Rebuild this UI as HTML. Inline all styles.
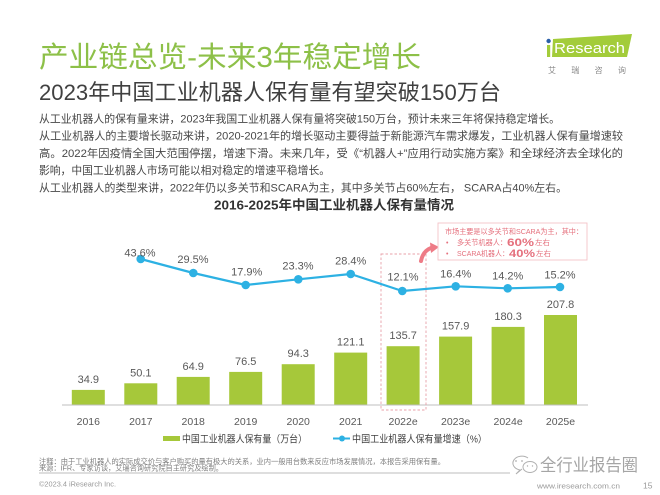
<!DOCTYPE html>
<html><head><meta charset="utf-8">
<style>
html,body{margin:0;padding:0;background:#fff;}
svg{display:block;}
text{font-family:"Liberation Sans","Noto Sans CJK SC",sans-serif;}
</style></head>
<body>
<svg width="660" height="495" viewBox="0 0 660 495" xmlns="http://www.w3.org/2000/svg">
<rect width="660" height="495" fill="#fff"/>

<!-- Titles -->
<text x="39" y="67" font-size="29" fill="#8dc048" textLength="382" lengthAdjust="spacingAndGlyphs">产业链总览-未来3年稳定增长</text>
<text x="39" y="100" font-size="22" fill="#404040" textLength="462" lengthAdjust="spacingAndGlyphs">2023年中国工业机器人保有量有望突破150万台</text>

<!-- Logo -->
<polygon points="553,39 632,34 627,57 552,57" fill="#a3cc3a"/>
<rect x="547" y="45" width="3.2" height="12" fill="#a3cc3a"/>
<circle cx="548.6" cy="41" r="2.2" fill="#2a5fa8"/>
<text x="554" y="53" font-size="15" fill="#fff" textLength="71" lengthAdjust="spacingAndGlyphs">Research</text>
<text x="548" y="73" font-size="8" fill="#8a8a8a" textLength="78" lengthAdjust="spacing">艾 瑞 咨 询</text>

<!-- Paragraph -->
<g font-size="11" fill="#474747">
<text x="39" y="122.5" textLength="521" lengthAdjust="spacingAndGlyphs">从工业机器人的保有量来讲，2023年我国工业机器人保有量将突破150万台，预计未来三年将保持稳定增长。</text>
<text x="39" y="139.7" textLength="584" lengthAdjust="spacingAndGlyphs">从工业机器人的主要增长驱动来讲，2020-2021年的增长驱动主要得益于新能源汽车需求爆发，工业机器人保有量增速较</text>
<text x="39" y="156.9" textLength="584" lengthAdjust="spacingAndGlyphs">高。2022年因疫情全国大范围停摆，增速下滑。未来几年，受《“机器人+”应用行动实施方案》和全球经济去全球化的</text>
<text x="39" y="174.1" textLength="291" lengthAdjust="spacingAndGlyphs">影响，中国工业机器人市场可能以相对稳定的增速平稳增长。</text>
<text x="39" y="191.3" textLength="528" lengthAdjust="spacingAndGlyphs">从工业机器人的类型来讲，2022年仍以多关节和SCARA为主，其中多关节占60%左右， SCARA占40%左右。</text>
</g>

<!-- Chart title -->
<text x="334" y="209.5" font-size="13.3" font-weight="bold" fill="#333" text-anchor="middle" textLength="240" lengthAdjust="spacingAndGlyphs">2016-2025年中国工业机器人保有量情况</text>

<!-- Bars -->
<g fill="#a6c83a">
<rect x="71.8" y="389.9" width="33" height="15.1"/>
<rect x="124.3" y="383.3" width="33" height="21.7"/>
<rect x="176.7" y="376.9" width="33" height="28.1"/>
<rect x="229.2" y="371.9" width="33" height="33.1"/>
<rect x="281.7" y="364.2" width="33" height="40.8"/>
<rect x="334.2" y="352.6" width="33" height="52.4"/>
<rect x="386.6" y="346.2" width="33" height="58.8"/>
<rect x="439.1" y="336.6" width="33" height="68.4"/>
<rect x="491.6" y="326.9" width="33" height="78.1"/>
<rect x="544.0" y="315.0" width="33" height="90.0"/>
</g>

<!-- Axis -->
<line x1="62" y1="405" x2="588" y2="405" stroke="#bfbfbf" stroke-width="1"/>

<!-- Bar labels -->
<g font-size="11" fill="#595959" text-anchor="middle">
<text x="88.3" y="382.9">34.9</text>
<text x="140.8" y="376.3">50.1</text>
<text x="193.2" y="369.9">64.9</text>
<text x="245.7" y="364.9">76.5</text>
<text x="298.2" y="357.2">94.3</text>
<text x="350.7" y="345.6">121.1</text>
<text x="403.1" y="339.2">135.7</text>
<text x="455.6" y="329.6">157.9</text>
<text x="508.1" y="319.9">180.3</text>
<text x="560.5" y="308.0">207.8</text>
</g>

<!-- Dashed highlight box -->
<rect x="381" y="254" width="45" height="156" fill="none" stroke="#e8a0a8" stroke-width="0.9" stroke-dasharray="2.5,2"/>

<!-- Line series -->
<polyline points="140.7,259 193.3,273 245.7,285 298.3,279.3 350.7,274 402.3,291 455.7,286.3 507.7,288.3 560,287" fill="none" stroke="#2db1e3" stroke-width="2.2" stroke-linejoin="round"/>
<g fill="#2db1e3">
<circle cx="140.7" cy="259" r="4.3"/>
<circle cx="193.3" cy="273" r="4.3"/>
<circle cx="245.7" cy="285" r="4.3"/>
<circle cx="298.3" cy="279.3" r="4.3"/>
<circle cx="350.7" cy="274" r="4.3"/>
<circle cx="402.3" cy="291" r="4.3"/>
<circle cx="455.7" cy="286.3" r="4.3"/>
<circle cx="507.7" cy="288.3" r="4.3"/>
<circle cx="560" cy="287" r="4.3"/>
</g>
<g font-size="11" fill="#595959" text-anchor="middle">
<text x="140" y="256.7">43.6%</text>
<text x="193" y="263">29.5%</text>
<text x="246.7" y="275.7">17.9%</text>
<text x="298" y="269.7">23.3%</text>
<text x="350.7" y="264.7">28.4%</text>
<text x="403" y="280.7">12.1%</text>
<text x="455.7" y="277.3">16.4%</text>
<text x="507.7" y="279.7">14.2%</text>
<text x="560" y="278.3">15.2%</text>
</g>

<!-- Arrow -->
<path d="M421,261 Q423,251 431,248" fill="none" stroke="#ee7b86" stroke-width="4" stroke-linecap="round"/>
<polygon points="430,242.5 439,247 431,253" fill="#ee7b86"/>

<!-- Callout -->
<rect x="438" y="223" width="149" height="37" fill="#fff" stroke="#f4c3c8" stroke-width="0.9"/>
<g fill="#e5707d">
<text x="445" y="234" font-size="7.5" textLength="138" lengthAdjust="spacingAndGlyphs">市场主要是以多关节和SCARA为主，其中：</text>
<text x="446" y="245" font-size="7">•</text>
<text x="457" y="245" font-size="7.5" textLength="50" lengthAdjust="spacingAndGlyphs">多关节机器人：</text>
<text x="507" y="245.8" font-size="11" font-weight="bold" textLength="27" lengthAdjust="spacingAndGlyphs">60%</text>
<text x="535" y="245" font-size="7.5">左右</text>
<text x="446" y="256" font-size="7">•</text>
<text x="457" y="256" font-size="7.5" textLength="52" lengthAdjust="spacingAndGlyphs">SCARA机器人：</text>
<text x="509" y="256.8" font-size="11" font-weight="bold" textLength="26" lengthAdjust="spacingAndGlyphs">40%</text>
<text x="536" y="256" font-size="7.5">左右</text>
</g>

<!-- X labels -->
<g font-size="10.5" fill="#595959" text-anchor="middle">
<text x="88.3" y="425">2016</text>
<text x="140.8" y="425">2017</text>
<text x="193.2" y="425">2018</text>
<text x="245.7" y="425">2019</text>
<text x="298.2" y="425">2020</text>
<text x="350.7" y="425">2021</text>
<text x="403.1" y="425">2022e</text>
<text x="455.6" y="425">2023e</text>
<text x="508.1" y="425">2024e</text>
<text x="560.5" y="425">2025e</text>
</g>

<!-- Legend -->
<rect x="163" y="436" width="17" height="5" fill="#a6c83a"/>
<text x="182" y="442.5" font-size="10" fill="#404040" textLength="125" lengthAdjust="spacingAndGlyphs">中国工业机器人保有量（万台）</text>
<line x1="333" y1="438.5" x2="350" y2="438.5" stroke="#2db1e3" stroke-width="2"/>
<circle cx="342" cy="438.5" r="3" fill="#2db1e3"/>
<text x="352" y="442.5" font-size="10" fill="#404040" textLength="135" lengthAdjust="spacingAndGlyphs">中国工业机器人保有量增速（%）</text>

<!-- Footnotes -->
<g font-size="7.4" fill="#7f7f7f">
<text x="39" y="463.8" textLength="406" lengthAdjust="spacingAndGlyphs">注释：由于工业机器人的实际成交价与客户购买的量有极大的关系，业内一般用台数来反应市场发展情况，本报告采用保有量。</text>
<text x="39" y="470.6" textLength="184" lengthAdjust="spacingAndGlyphs">来源：IFR、专家访谈，艾瑞咨询研究院自主研究及绘制。</text>
</g>
<line x1="39" y1="473" x2="510" y2="473" stroke="#a6a6a6" stroke-width="0.8"/>
<text x="39" y="486.5" font-size="7.5" fill="#999" textLength="77" lengthAdjust="spacingAndGlyphs">©2023.4 iResearch Inc.</text>
<text x="537" y="488.5" font-size="7.5" fill="#999" textLength="83" lengthAdjust="spacingAndGlyphs">www.iresearch.com.cn</text>
<text x="643" y="488.5" font-size="8.5" fill="#999">15</text>

<!-- Watermark -->
<g fill="none" stroke="#b0b0b0" stroke-width="1">
<path d="M528,458 A9,7 0 1 0 520,470 L516,474 L522,469"/>
<ellipse cx="530" cy="467" rx="7" ry="5.5"/>
</g>
<g fill="#b0b0b0">
<circle cx="516" cy="461" r="0.9"/><circle cx="522" cy="461" r="0.9"/>
<circle cx="527.5" cy="466" r="0.7"/><circle cx="532.5" cy="466" r="0.7"/>
</g>
<text x="540" y="471" font-size="17" fill="#a5a5a5" textLength="98" lengthAdjust="spacingAndGlyphs">全行业报告圈</text>
</svg>
</body></html>
